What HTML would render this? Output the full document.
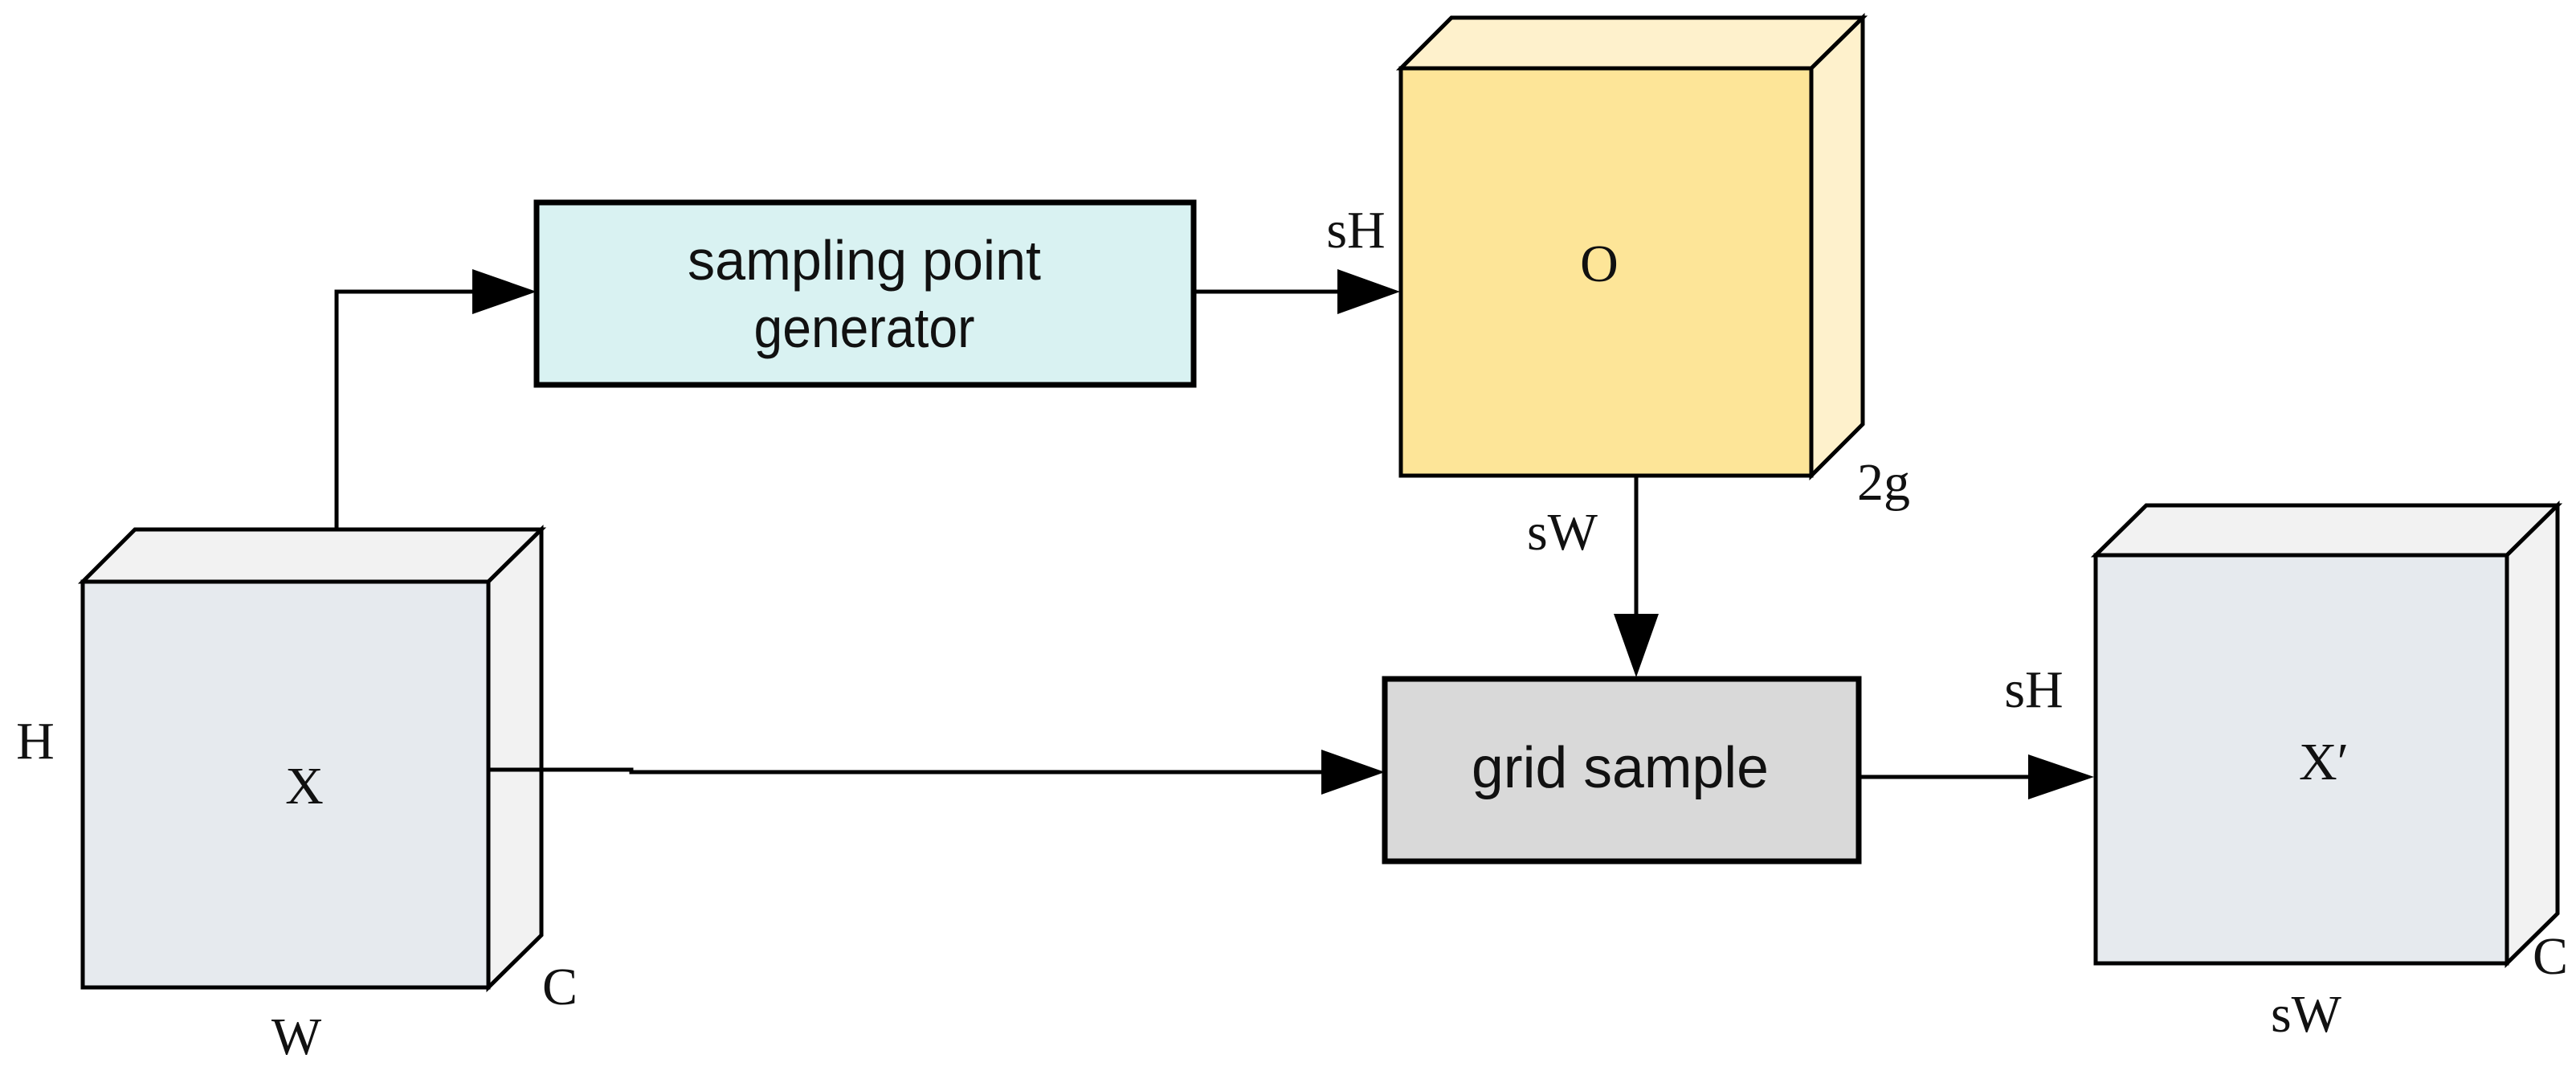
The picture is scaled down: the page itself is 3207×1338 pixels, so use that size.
<!DOCTYPE html>
<html><head><meta charset="utf-8"><style>html,body{margin:0;padding:0;background:#fff}svg{display:block}</style></head><body>
<svg width="3207" height="1338" viewBox="0 0 3207 1338" xmlns="http://www.w3.org/2000/svg">
<g stroke="#000" stroke-width="5" stroke-linejoin="miter">
<polygon points="103,724 168,659 674,659 608,724" fill="#f2f2f2"/>
<polygon points="608,724 674,659 674,1164 608,1229" fill="#f2f2f2"/>
<rect x="103" y="724" width="505" height="505" fill="#e6eaee"/>
<polygon points="1744,85 1807,22 2319,22 2255,85" fill="#fef1cc"/>
<polygon points="2255,85 2319,22 2319,528 2255,592" fill="#fef1cc"/>
<rect x="1744" y="85" width="511" height="507" fill="#fde598"/>
<polygon points="2609,691 2672,629 3184,629 3121,691" fill="#f2f2f2"/>
<polygon points="3121,691 3184,629 3184,1137 3121,1199" fill="#f2f2f2"/>
<rect x="2609" y="691" width="512" height="508" fill="#e6eaee"/>
<rect x="668" y="252" width="818" height="227" fill="#d9f2f2" stroke-width="7"/>
<rect x="1724" y="845" width="590" height="227" fill="#d9d9d9" stroke-width="7"/>
</g>
<g stroke="#000" stroke-width="5" fill="none">
<path d="M419,659 V363 H588"/>
<path d="M1486,363 H1665"/>
<path d="M2037,592 V764"/>
<path d="M608,958 H786 V961 H1645"/>
<path d="M2314,967 H2525"/>
</g>
<g fill="#000">
<polygon points="588,335 668,363 588,391"/>
<polygon points="1665,335 1743,363 1665,391"/>
<polygon points="2009,764 2037,843 2065,764"/>
<polygon points="1645,933 1724,961 1645,989"/>
<polygon points="2525,939 2607,967 2525,995"/>
</g>
<g font-family="Liberation Sans, sans-serif" text-anchor="middle" fill="#111">
<text x="1076" y="348" font-size="70" textLength="440" lengthAdjust="spacingAndGlyphs">sampling point</text>
<text x="1076" y="432" font-size="70" textLength="275" lengthAdjust="spacingAndGlyphs">generator</text>
<text x="2017" y="980" font-size="72" textLength="370" lengthAdjust="spacingAndGlyphs">grid sample</text>
</g>
<g font-family="Liberation Serif, serif" font-size="66" text-anchor="middle" fill="#111">
<text x="44" y="944">H</text>
<text x="379" y="1000">X</text>
<text x="697" y="1250">C</text>
<text x="369" y="1312">W</text>
<text x="1688" y="308">sH</text>
<text x="1991" y="350">O</text>
<text x="2345" y="622">2g</text>
<text x="1945" y="684">sW</text>
<text x="2532" y="880">sH</text>
<text x="2893" y="970">X′</text>
<text x="3175" y="1212">C</text>
<text x="2871" y="1284">sW</text>
</g>
</svg>
</body></html>
